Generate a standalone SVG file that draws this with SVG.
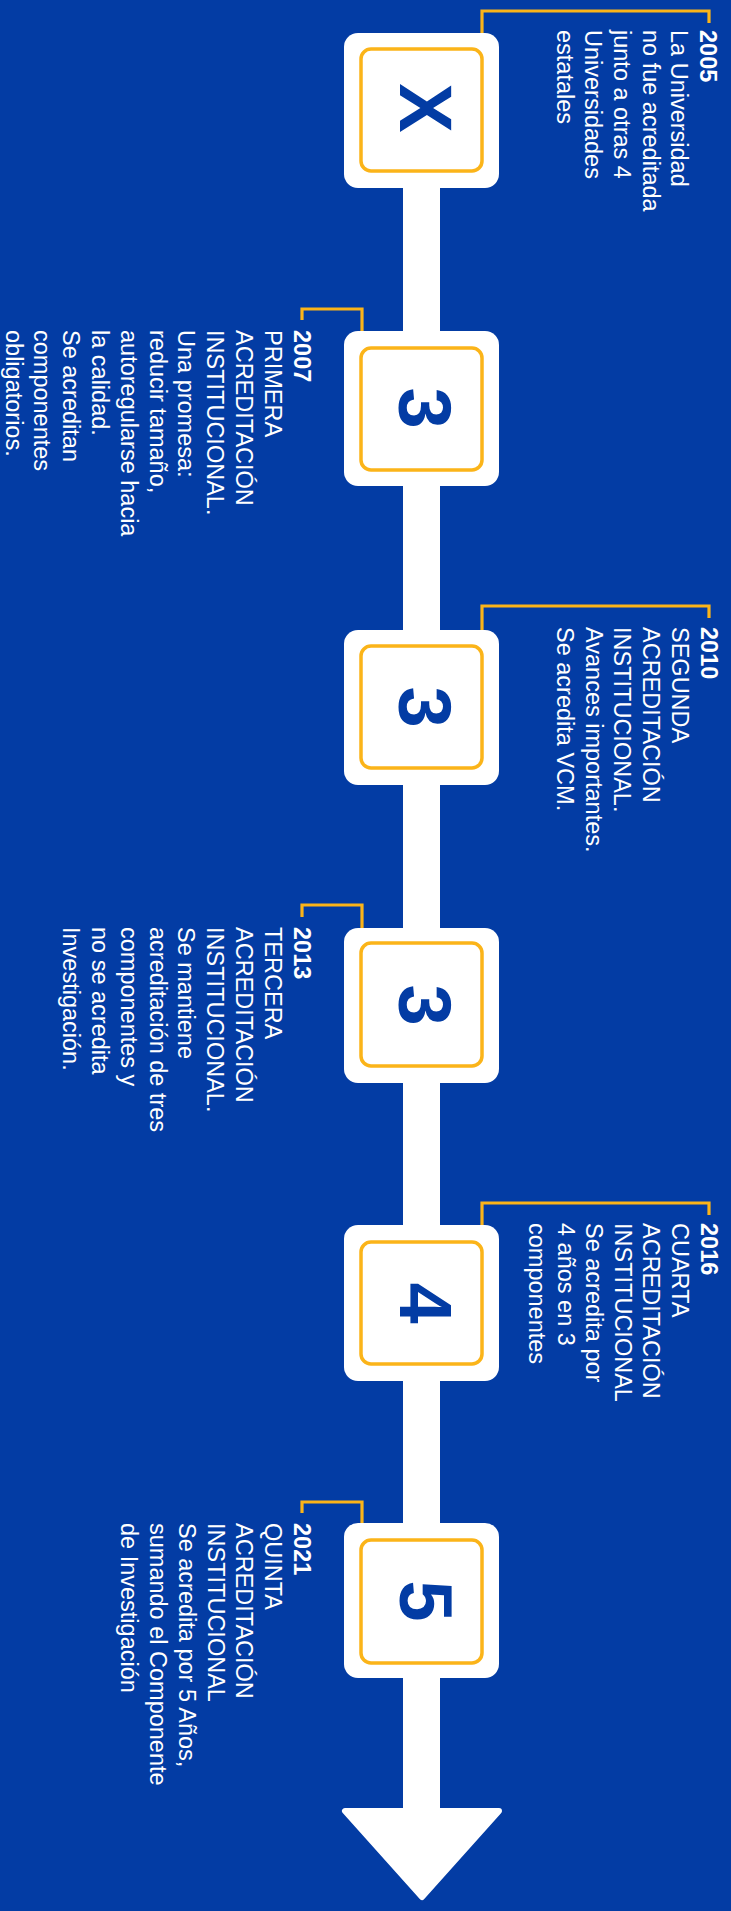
<svg xmlns="http://www.w3.org/2000/svg" width="731" height="1911" viewBox="0 0 731 1911">
<style>
.bg{fill:#033ca4}
.outer{fill:#ffffff}
.inner{fill:#ffffff;stroke:#fbb419;stroke-width:3.5}
.con{fill:none;stroke:#fbb419;stroke-width:3.2}
.num{font-family:"Liberation Sans",Arial,sans-serif;font-weight:bold;font-size:74px;fill:#033ca4;text-anchor:middle}
.txt{font-family:"Liberation Sans",Arial,sans-serif;font-size:23.5px;fill:#ffffff}
.yr{font-weight:bold}
</style>
<rect class="bg" x="0" y="0" width="731" height="1911"/>
<g id="spine">
<rect x="403" y="150" width="37" height="1670" fill="#ffffff"/>
<polygon points="345,1811 499,1811 422,1897" fill="#ffffff" stroke="#ffffff" stroke-width="6" stroke-linejoin="round"/>
</g>
<g id="connectors">
<path class="con" d="M482,49 V11 H709 V23"/>
<path class="con" d="M362,348 V309 H302 V320"/>
<path class="con" d="M482,646 V606 H709 V618"/>
<path class="con" d="M362,943 V905 H302 V917"/>
<path class="con" d="M482,1242 V1203 H709 V1215"/>
<path class="con" d="M362,1540 V1502 H302 V1513"/>
</g>
<g id="node2005">
<rect class="outer" x="344" y="33" width="155" height="155" rx="14"/>
<rect class="inner" x="361" y="49" width="121" height="122" rx="10"/>
<text class="num" transform="translate(400,108) rotate(90)">X</text>
<text class="txt" transform="translate(700,30) rotate(90)"><tspan class="yr" x="0" y="0">2005</tspan><tspan x="0" dy="28.7">La Universidad</tspan><tspan x="0" dy="28.7">no fue acreditada</tspan><tspan x="0" dy="28.7">junto a otras 4</tspan><tspan x="0" dy="28.7">Universidades</tspan><tspan x="0" dy="28.7">estatales</tspan></text>
</g>
<g id="node2007">
<rect class="outer" x="344" y="331" width="155" height="155" rx="14"/>
<rect class="inner" x="361" y="348" width="121" height="122" rx="10"/>
<text class="num" transform="translate(399,408) rotate(90)">3</text>
<text class="txt" transform="translate(293.5,330) rotate(90)"><tspan class="yr" x="0" y="0">2007</tspan><tspan x="0" dy="28.8">PRIMERA</tspan><tspan x="0" dy="28.8">ACREDITACIÓN</tspan><tspan x="0" dy="28.8">INSTITUCIONAL.</tspan><tspan x="0" dy="28.8">Una promesa:</tspan><tspan x="0" dy="28.8">reducir tamaño,</tspan><tspan x="0" dy="28.8">autoregularse hacia</tspan><tspan x="0" dy="28.8">la calidad.</tspan><tspan x="0" dy="28.8">Se acreditan</tspan><tspan x="0" dy="28.8">componentes</tspan><tspan x="0" dy="28.8">obligatorios.</tspan></text>
</g>
<g id="node2010">
<rect class="outer" x="344" y="630" width="155" height="155" rx="14"/>
<rect class="inner" x="361" y="646" width="121" height="122" rx="10"/>
<text class="num" transform="translate(399,707) rotate(90)">3</text>
<text class="txt" transform="translate(700.5,627) rotate(90)"><tspan class="yr" x="0" y="0">2010</tspan><tspan x="0" dy="28.7">SEGUNDA</tspan><tspan x="0" dy="28.7">ACREDITACIÓN</tspan><tspan x="0" dy="28.7">INSTITUCIONAL.</tspan><tspan x="0" dy="28.7">Avances importantes.</tspan><tspan x="0" dy="28.7">Se acredita VCM.</tspan></text>
</g>
<g id="node2013">
<rect class="outer" x="344" y="928" width="155" height="155" rx="14"/>
<rect class="inner" x="361" y="943" width="121" height="123" rx="10"/>
<text class="num" transform="translate(399,1005) rotate(90)">3</text>
<text class="txt" transform="translate(293.5,927) rotate(90)"><tspan class="yr" x="0" y="0">2013</tspan><tspan x="0" dy="28.8">TERCERA</tspan><tspan x="0" dy="28.8">ACREDITACIÓN</tspan><tspan x="0" dy="28.8">INSTITUCIONAL.</tspan><tspan x="0" dy="28.8">Se mantiene</tspan><tspan x="0" dy="28.8">acreditación de tres</tspan><tspan x="0" dy="28.8">componentes y</tspan><tspan x="0" dy="28.8">no se acredita</tspan><tspan x="0" dy="28.8">Investigación.</tspan></text>
</g>
<g id="node2016">
<rect class="outer" x="344" y="1225" width="155" height="156" rx="14"/>
<rect class="inner" x="361" y="1242" width="121" height="122" rx="10"/>
<text class="num" transform="translate(400,1303) rotate(90)">4</text>
<text class="txt" transform="translate(700.5,1223) rotate(90)"><tspan class="yr" x="0" y="0">2016</tspan><tspan x="0" dy="28.6">CUARTA</tspan><tspan x="0" dy="28.6">ACREDITACIÓN</tspan><tspan x="0" dy="28.6">INSTITUCIONAL</tspan><tspan x="0" dy="28.6">Se acredita por</tspan><tspan x="0" dy="28.6">4 años en 3</tspan><tspan x="0" dy="28.6">componentes</tspan></text>
</g>
<g id="node2021">
<rect class="outer" x="344" y="1523" width="155" height="155" rx="14"/>
<rect class="inner" x="361" y="1540" width="121" height="123" rx="10"/>
<text class="num" transform="translate(400,1601) rotate(90)">5</text>
<text class="txt" transform="translate(294,1523) rotate(90)"><tspan class="yr" x="0" y="0">2021</tspan><tspan x="0" dy="28.8">QUINTA</tspan><tspan x="0" dy="28.8">ACREDITACIÓN</tspan><tspan x="0" dy="28.8">INSTITUCIONAL</tspan><tspan x="0" dy="28.8">Se acredita por 5 Años,</tspan><tspan x="0" dy="28.8">sumando el Componente</tspan><tspan x="0" dy="28.8">de Investigación</tspan></text>
</g>
</svg>
